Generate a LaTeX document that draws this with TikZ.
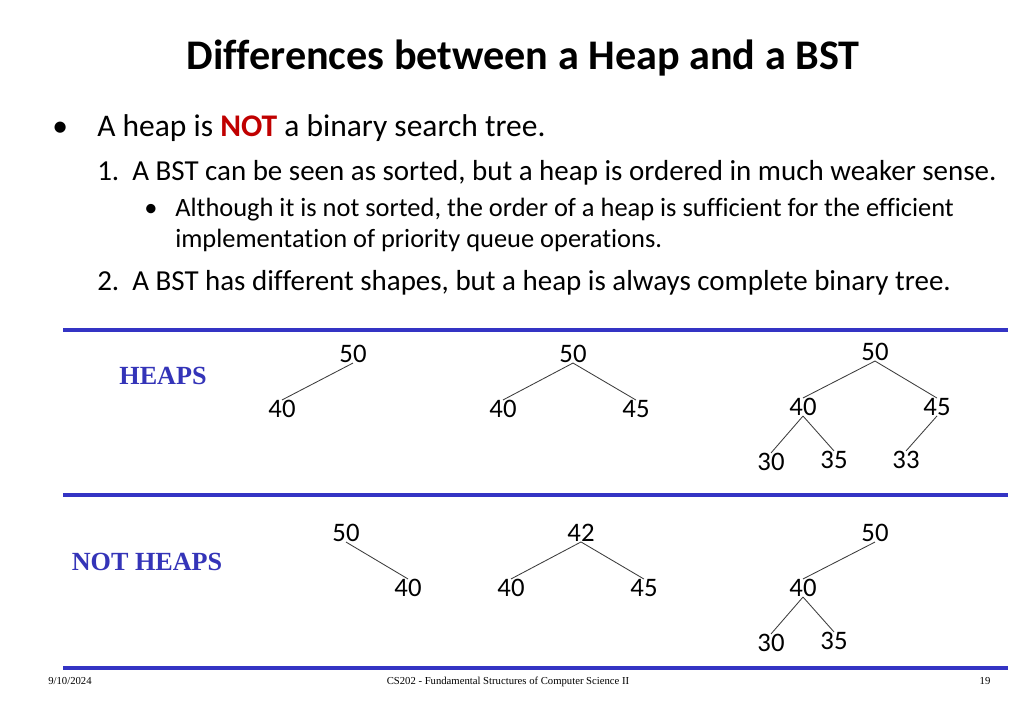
\documentclass[tikz,border=0pt]{standalone}
\usepackage{fontspec}
\setmainfont[Ligatures=NoCommon]{Carlito}
\newfontfamily\timesfont{Liberation Serif}
\usepackage{xcolor}
\usetikzlibrary{positioning}
\definecolor{rule}{HTML}{3434C4}
\definecolor{label}{HTML}{3434B8}
\definecolor{alert}{HTML}{C00000}
\definecolor{edgeg}{HTML}{3C3C3C}
\tikzset{
  title/.style={font=\fontsize{30}{36}\selectfont\bfseries, inner sep=0pt},
  item/.style={anchor=base west, inner sep=0pt, font=\fontsize{20.6}{24}\selectfont},
  subitem/.style={anchor=base west, inner sep=0pt, font=\fontsize{18.8}{22}\selectfont},
  sep/.style={draw=rule, line width=3pt},
  group/.style={font=\timesfont\fontsize{18.6}{22}\selectfont\bfseries, text=label, inner sep=0pt},
  key/.style={font=\fontsize{19}{22}\selectfont, inner sep=0pt},
  edge/.style={draw=edgeg, line width=0.6pt},
  foot/.style={font=\timesfont\fontsize{7.6}{9}\selectfont, inner sep=0pt, anchor=base}
}

\begin{document}
\begin{tikzpicture}[x=0.025cm,y=-0.025cm]
  \useasboundingbox[fill=white] (0,0) rectangle (1024,709);

  \node[title] (head) at (523,58) {Differences between a Heap and a BST};

  \node[item,font=\fontsize{22.4}{26}\selectfont] (b0) at (52,137) {\textbullet};
  \node[item,font=\fontsize{22.4}{26}\selectfont] (l0) at (97,137) {A heap is \textcolor{alert}{\textbf{NOT}} a binary search tree.};
  \node[item] (l1) at (97,180) {1.\hspace{0.45em}A BST can be seen as sorted, but a heap is ordered in much weaker sense.};
  \node[subitem] (b1) at (144,216) {\textbullet};
  \node[subitem] (l2) at (175,216) {Although it is not sorted, the order of a heap is sufficient for the efficient};
  \node[subitem] (l3) at (175,247) {implementation of priority queue operations.};
  \node[item] (l4) at (97,290) {2.\hspace{0.45em}A BST has different shapes, but a heap is always complete binary tree.};

  % separators
  \coordinate (r1a) at (63,330);  \coordinate (r1b) at (1008,330);
  \coordinate (r2a) at (63,495);  \coordinate (r2b) at (1008,495);
  \coordinate (r3a) at (63,668);  \coordinate (r3b) at (1008,668);
  \draw[sep] (r1a) -- (r1b);
  \draw[sep] (r2a) -- (r2b);
  \draw[sep] (r3a) -- (r3b);

  \node[group] (heaps) at (163,376) {HEAPS};
  \node[group] (notheaps) at (147,562) {NOT HEAPS};

  % heaps
  \node[key] (a50) at (353,354) {50};
  \node[key] (a40) at (282,409) {40};
  \draw[edge] (a50.south) -- (a40.north);

  \node[key] (b50) at (573,354) {50};
  \node[key] (b40) at (503,409) {40};
  \node[key] (b45) at (636,409) {45};
  \draw[edge] (b50.south) -- (b40.north);
  \draw[edge] (b50.south) -- (b45.north);

  \node[key] (c50) at (875,352) {50};
  \node[key] (c40) at (803,407) {40};
  \node[key] (c45) at (937,407) {45};
  \node[key] (c30) at (771,462) {30};
  \node[key] (c35) at (834,460) {35};
  \node[key] (c33) at (906,460) {33};
  \draw[edge] (c50.south) -- (c40.north);
  \draw[edge] (c50.south) -- (c45.north);
  \draw[edge] (c40.south) -- (c30.north);
  \draw[edge] (c40.south) -- (c35.north);
  \draw[edge] (c45.south) -- (c33.north);

  % not heaps
  \node[key] (d50) at (346,533) {50};
  \node[key] (d40) at (408,588) {40};
  \draw[edge] (d50.south) -- (d40.north);

  \node[key] (e42) at (581,533) {42};
  \node[key] (e40) at (511,588) {40};
  \node[key] (e45) at (644,588) {45};
  \draw[edge] (e42.south) -- (e40.north);
  \draw[edge] (e42.south) -- (e45.north);

  \node[key] (f50) at (875,533) {50};
  \node[key] (f40) at (803,588) {40};
  \node[key] (f30) at (771,643) {30};
  \node[key] (f35) at (834,641) {35};
  \draw[edge] (f50.south) -- (f40.north);
  \draw[edge] (f40.south) -- (f30.north);
  \draw[edge] (f40.south) -- (f35.north);

  % footer
  \node[foot] (date) at (70,684) {9/10/2024};
  \node[foot] (course) at (508,684) {CS202 - Fundamental Structures of Computer Science II};
  \node[foot] (page) at (985,684) {19};
\end{tikzpicture}
\end{document}
